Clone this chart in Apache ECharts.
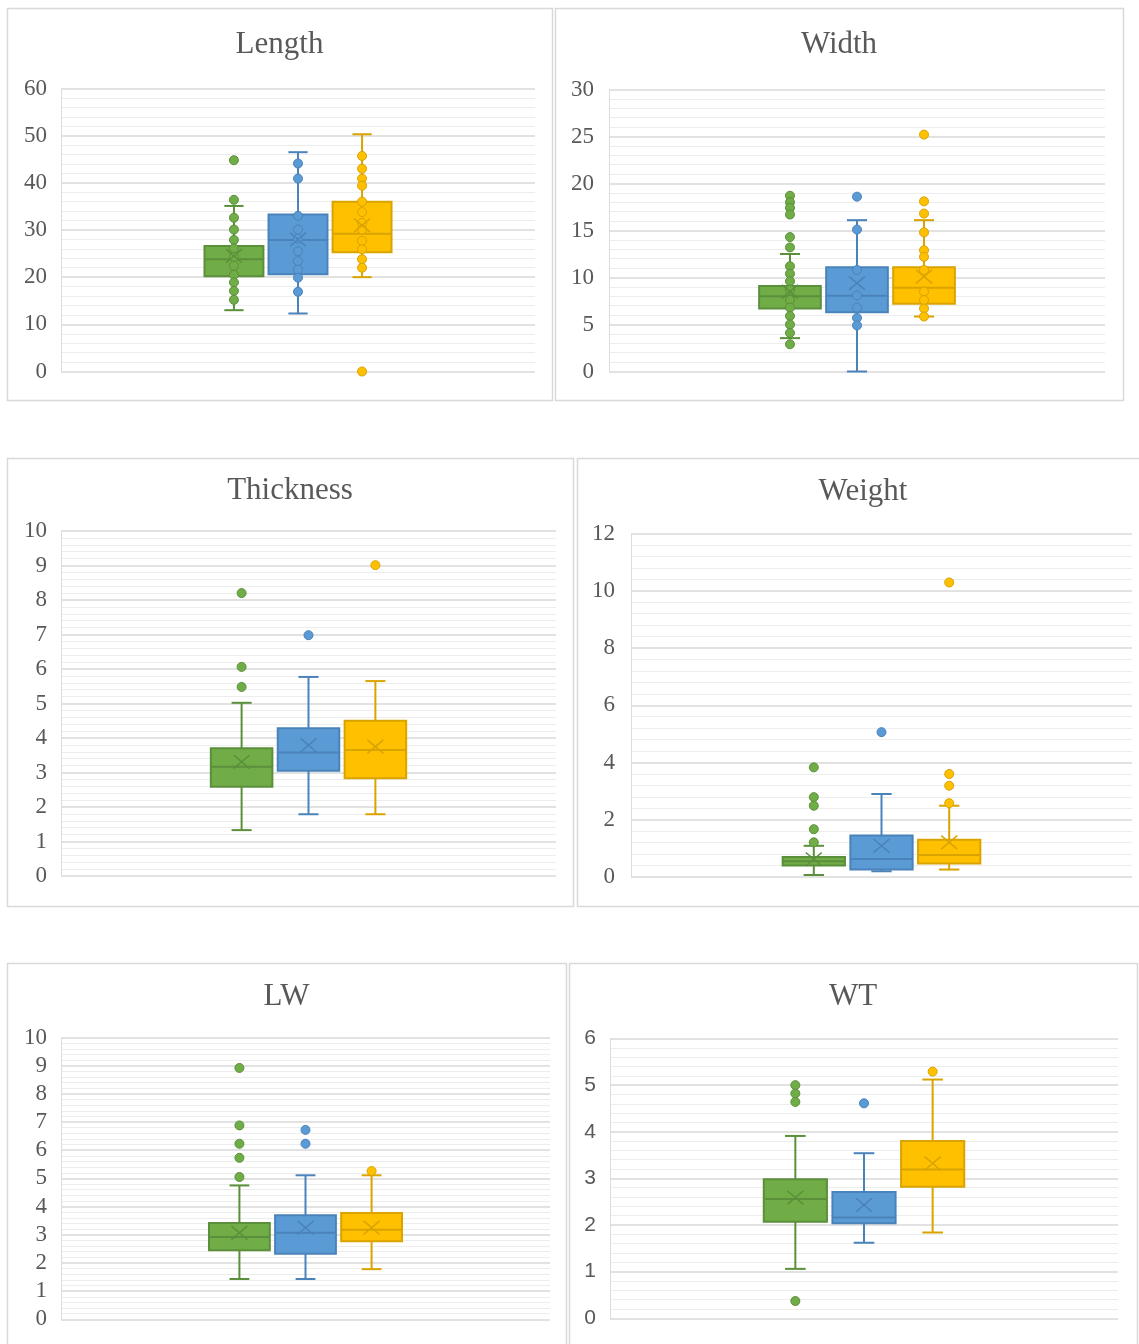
<!DOCTYPE html>
<html>
<head>
<meta charset="utf-8">
<script src="https://cdn.jsdelivr.net/npm/echarts@6/dist/echarts.min.js"></script>
<style>
  html, body { margin: 0; padding: 0; background: #ffffff; }
  #chart { width: 1139px; height: 1344px; }
</style>
</head>
<body>
<div id="chart"></div>
<script>
// Box statistics per group, each as [min, Q1, median, Q3, max]; groups are green, blue, yellow.
const lengthTicks = [0, 10, 20, 30, 40, 50, 60];
const lengthBoxes = [[13.0, 20.2, 23.8, 26.6, 35.1], [12.3, 20.6, 27.9, 33.3, 46.5], [20.0, 25.3, 29.2, 36.0, 50.3]];
const lengthMeans = [24.5, 28.0, 31.0];
const lengthPoints = [
  [44.8, 36.4, 32.6, 30.1, 27.9, 26.1, 24.3, 22.4, 20.5, 18.9, 17.1, 15.2],
  [44.1, 40.9, 33.0, 30.1, 28.2, 25.5, 23.4, 21.6, 19.9, 16.9],
  [45.7, 43.0, 40.9, 39.4, 36.0, 33.8, 31.5, 30.1, 27.7, 25.9, 23.8, 22.0, 0]
];

const widthTicks = [0, 5, 10, 15, 20, 25, 30];
const widthBoxes = [[3.55, 6.7, 8.0, 9.1, 12.5], [0, 6.3, 8.05, 11.1, 16.1], [5.85, 7.2, 8.9, 11.1, 16.1]];
const widthMeans = [8.5, 9.4, 10.1];
const widthPoints = [
  [18.7, 18.0, 17.4, 16.7, 14.3, 13.2, 11.2, 10.4, 9.6, 8.7, 7.6, 6.8, 5.9, 5.0, 4.1, 2.9],
  [18.6, 15.1, 10.8, 8.1, 6.8, 5.7, 4.9],
  [25.2, 18.1, 16.8, 14.8, 12.9, 12.2, 10.8, 8.5, 7.6, 6.7, 5.85]
];

const thicknessTicks = [0, 1, 2, 3, 4, 5, 6, 7, 8, 9, 10];
const thicknessBoxes = [[1.33, 2.59, 3.17, 3.70, 5.02], [1.79, 3.05, 3.58, 4.28, 5.77], [1.79, 2.83, 3.65, 4.50, 5.65]];
const thicknessMeans = [3.31, 3.79, 3.75];
const thicknessPoints = [[8.20, 6.06, 5.48], [6.98], [9.01]];

const weightTicks = [0, 2, 4, 6, 8, 10, 12];
const weightBoxes = [[0.07, 0.40, 0.55, 0.70, 1.09], [0.20, 0.26, 0.63, 1.45, 2.90], [0.26, 0.47, 0.77, 1.30, 2.49]];
const weightMeans = [0.62, 1.09, 1.21];
const weightPoints = [[3.83, 2.79, 2.49, 1.67, 1.21], [5.06], [10.29, 3.60, 3.19, 2.58]];

const lwTicks = [0, 1, 2, 3, 4, 5, 6, 7, 8, 9, 10];
const lwBoxes = [[1.43, 2.45, 2.92, 3.42, 4.75], [1.43, 2.33, 3.07, 3.69, 5.11], [1.78, 2.77, 3.18, 3.77, 5.11]];
const lwMeans = [3.07, 3.25, 3.25];
const lwPoints = [[8.92, 6.88, 6.23, 5.73, 5.05], [6.72, 6.23], [5.26]];

const wtTicks = [0, 1, 2, 3, 4, 5, 6];
const wtBoxes = [[1.06, 2.07, 2.56, 2.98, 3.91], [1.62, 2.04, 2.16, 2.71, 3.54], [1.84, 2.82, 3.19, 3.80, 5.12]];
const wtMeans = [2.59, 2.43, 3.32];
const wtPoints = [[5.00, 4.82, 4.64, 0.37], [4.61], [5.29]];

const fills = ['#70ad47', '#5b9bd5', '#ffc000'];
const strokes = ['#5b8f3b', '#4a82ba', '#d9a300'];

const serif = '"Liberation Serif", "Times New Roman", serif';
const sans = '"Liberation Sans", Arial, sans-serif';

// Panel frames, plot rectangles and title anchors (pixels).
const panels = [
  { title: 'Length', ticks: lengthTicks, boxes: lengthBoxes, means: lengthMeans, points: lengthPoints,
    frame: [7.5, 8.5, 545, 392], grid: [61, 88.5, 474, 283], titleAt: [279.5, 45], labelFont: serif, labelMargin: 14 },
  { title: 'Width', ticks: widthTicks, boxes: widthBoxes, means: widthMeans, points: widthPoints,
    frame: [555.5, 8.5, 568, 392], grid: [609, 89.5, 496, 282], titleAt: [839, 45], labelFont: serif, labelMargin: 15 },
  { title: 'Thickness', ticks: thicknessTicks, boxes: thicknessBoxes, means: thicknessMeans, points: thicknessPoints,
    frame: [7.5, 458.5, 566, 448], grid: [61, 531, 495, 345], titleAt: [290, 491], labelFont: serif, labelMargin: 14 },
  { title: 'Weight', ticks: weightTicks, boxes: weightBoxes, means: weightMeans, points: weightPoints,
    frame: [577.5, 458.5, 600, 448], grid: [631, 533.5, 501, 343.5], titleAt: [863, 492], labelFont: serif, labelMargin: 16 },
  { title: 'LW', ticks: lwTicks, boxes: lwBoxes, means: lwMeans, points: lwPoints,
    frame: [7.5, 963.5, 559, 420], grid: [61, 1037.5, 489, 281.8], titleAt: [286.5, 997], labelFont: serif, labelMargin: 14 },
  { title: 'WT', ticks: wtTicks, boxes: wtBoxes, means: wtMeans, points: wtPoints,
    frame: [569.5, 963.5, 568, 420], grid: [610, 1038.5, 508, 279.8], titleAt: [853, 997], labelFont: sans, labelMargin: 14 }
];

// Slot layout along the hidden x axis: groups sit at -1, 0, 1.
const X_HALF_RANGE = 3.7;
const BOX_WIDTH = 0.92;
const CAP_WIDTH = 0.3;

function renderBox(params, api) {
  const g = params.dataIndex;
  const x = api.value(0);
  const cx = api.coord([x, 0])[0];
  const yMin = api.coord([x, api.value(1)])[1];
  const yQ1 = api.coord([x, api.value(2)])[1];
  const yMed = api.coord([x, api.value(3)])[1];
  const yQ3 = api.coord([x, api.value(4)])[1];
  const yMax = api.coord([x, api.value(5)])[1];
  const half = api.size([BOX_WIDTH, 0])[0] / 2;
  const cap = api.size([CAP_WIDTH, 0])[0] / 2;
  const stroke = strokes[g];
  const ls = { stroke: stroke, lineWidth: 2 };
  return {
    type: 'group',
    children: [
      { type: 'line', shape: { x1: cx, y1: yQ3, x2: cx, y2: yMax }, style: ls },
      { type: 'line', shape: { x1: cx, y1: yQ1, x2: cx, y2: yMin }, style: ls },
      { type: 'line', shape: { x1: cx - cap, y1: yMax, x2: cx + cap, y2: yMax }, style: ls },
      { type: 'line', shape: { x1: cx - cap, y1: yMin, x2: cx + cap, y2: yMin }, style: ls },
      { type: 'rect', shape: { x: cx - half, y: yQ3, width: half * 2, height: yQ1 - yQ3 },
        style: { fill: fills[g], stroke: stroke, lineWidth: 2 } },
      { type: 'line', shape: { x1: cx - half, y1: yMed, x2: cx + half, y2: yMed }, style: ls }
    ]
  };
}

function renderMean(params, api) {
  const g = params.dataIndex;
  const p = api.coord([api.value(0), api.value(1)]);
  const r = 8;
  const ls = { stroke: strokes[g], lineWidth: 1.5 };
  return {
    type: 'group',
    children: [
      { type: 'line', shape: { x1: p[0] - r, y1: p[1] - r * 0.85, x2: p[0] + r, y2: p[1] + r * 0.85 }, style: ls },
      { type: 'line', shape: { x1: p[0] - r, y1: p[1] + r * 0.85, x2: p[0] + r, y2: p[1] - r * 0.85 }, style: ls }
    ]
  };
}

const grid = [], xAxis = [], yAxis = [], series = [], graphic = [];

panels.forEach(function (pn, i) {
  graphic.push({
    type: 'rect', silent: true, z: -10,
    shape: { x: pn.frame[0], y: pn.frame[1], width: pn.frame[2], height: pn.frame[3] },
    style: { fill: '#ffffff', stroke: '#d9d9d9', lineWidth: 1.5 }
  });
  graphic.push({
    type: 'text', silent: true, z: 10,
    x: pn.titleAt[0], y: pn.titleAt[1],
    style: { text: pn.title, fill: '#595959', font: '31px ' + serif, align: 'center', verticalAlign: 'middle' }
  });

  grid.push({ left: pn.grid[0], top: pn.grid[1], width: pn.grid[2], height: pn.grid[3] });
  xAxis.push({
    gridIndex: i, type: 'value', min: -X_HALF_RANGE, max: X_HALF_RANGE, show: false,
    splitLine: { show: false }, axisLine: { show: false }, axisTick: { show: false }, axisLabel: { show: false }
  });
  const t = pn.ticks;
  yAxis.push({
    gridIndex: i, type: 'value',
    min: t[0], max: t[t.length - 1], interval: t[1] - t[0],
    axisLine: { show: true, onZero: false, lineStyle: { color: '#dddddd', width: 1 } },
    axisTick: { show: false },
    axisLabel: { color: '#595959', fontFamily: pn.labelFont, fontSize: pn.labelFont === sans ? 21 : 23, margin: pn.labelMargin },
    splitLine: { show: true, lineStyle: { color: '#d9d9d9', width: 1.5 } },
    minorTick: { show: false, splitNumber: 5 },
    minorSplitLine: { show: true, lineStyle: { color: '#ededed', width: 1 } }
  });

  series.push({
    type: 'custom', xAxisIndex: i, yAxisIndex: i, z: 2,
    renderItem: renderBox,
    encode: { x: 0, y: [1, 2, 3, 4, 5] },
    data: pn.boxes.map(function (b, g) { return [g - 1].concat(b); })
  });
  pn.points.forEach(function (vals, g) {
    series.push({
      type: 'scatter', xAxisIndex: i, yAxisIndex: i, z: 3,
      symbol: 'circle', symbolSize: 9,
      itemStyle: { color: fills[g], borderColor: strokes[g], borderWidth: 1, opacity: 1 },
      data: vals.map(function (v) { return [g - 1, v]; })
    });
  });
  series.push({
    type: 'custom', xAxisIndex: i, yAxisIndex: i, z: 4,
    renderItem: renderMean,
    encode: { x: 0, y: 1 },
    data: pn.means.map(function (m, g) { return [g - 1, m]; })
  });
});

const chart = echarts.init(document.getElementById('chart'), null, { renderer: 'canvas' });
chart.setOption({
  animation: false,
  backgroundColor: '#ffffff',
  grid: grid,
  xAxis: xAxis,
  yAxis: yAxis,
  graphic: graphic,
  series: series
});
</script>
</body>
</html>
